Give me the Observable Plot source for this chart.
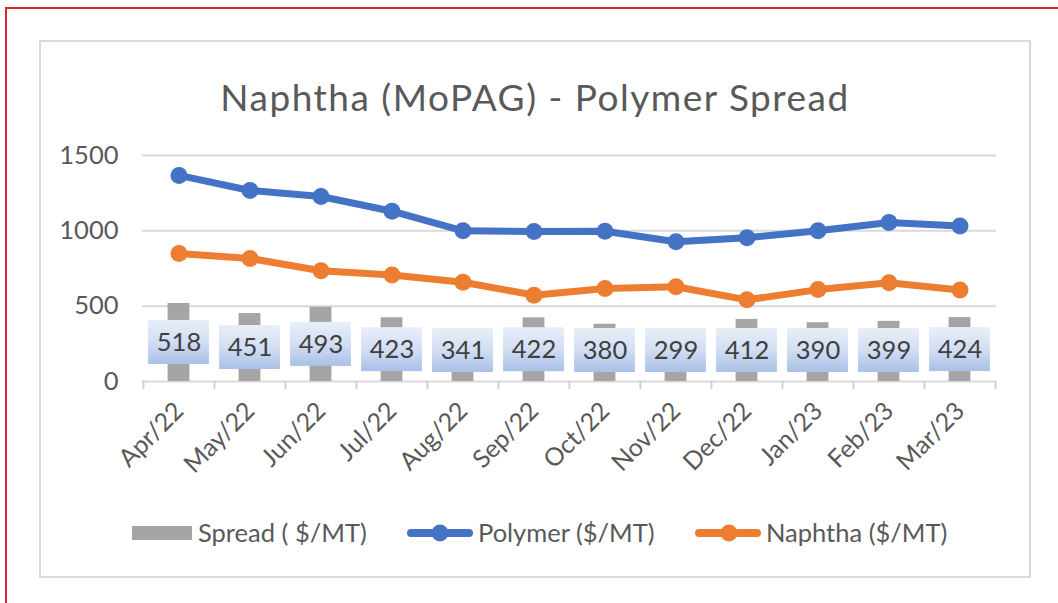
<!DOCTYPE html>
<html><head><meta charset="utf-8">
<script src="https://cdn.jsdelivr.net/npm/d3@7"></script>
<script src="https://cdn.jsdelivr.net/npm/@observablehq/plot@0.6"></script>
<style>
body{margin:0;background:#fff;font-family:Lato, sans-serif;}
#page{position:relative;width:1058px;height:603px;overflow:hidden;background:#fff}
#red{position:absolute;left:5px;top:7px;width:1200px;height:800px;border:2.5px solid #d6282e;}
#box{position:absolute;left:39px;top:40px;width:992px;height:538px;box-sizing:border-box;border:2px solid #d9d9d9;background:#fff}
#title{position:absolute;left:39px;width:992px;top:78px;text-align:center;font-size:37px;line-height:37px;letter-spacing:1.5px;color:#595959;white-space:nowrap}
#chart{position:absolute;left:40px;top:131px;}
.leg{position:absolute;font-size:25.5px;line-height:25px;color:#595959;white-space:nowrap}
</style></head>
<body>
<div id="page">
  <div id="red"></div>
  <div id="box"></div>
  <div id="title">Naphtha (MoPAG) - Polymer Spread</div>
  <div id="chart"></div>
  <div style="position:absolute;left:132px;top:526px;width:60px;height:14px;background:#a5a5a5"></div>
  <div class="leg" style="left:198px;top:520px">Spread ( $/MT)</div>
  <svg style="position:absolute;left:400px;top:520px" width="80" height="26"><line x1="11" x2="69" y1="13" y2="13" stroke="#4472c4" stroke-width="8" stroke-linecap="round"/><circle cx="40" cy="13" r="8.5" fill="#4472c4"/></svg>
  <div class="leg" style="left:478px;top:520px">Polymer ($/MT)</div>
  <svg style="position:absolute;left:689px;top:520px" width="80" height="26"><line x1="10" x2="68" y1="13" y2="13" stroke="#ed7d31" stroke-width="8" stroke-linecap="round"/><circle cx="40" cy="13" r="8.5" fill="#ed7d31"/></svg>
  <div class="leg" style="left:766px;top:520px">Naphtha ($/MT)</div>
</div>
<script>
const months = ["Apr/22","May/22","Jun/22","Jul/22","Aug/22","Sep/22","Oct/22","Nov/22","Dec/22","Jan/23","Feb/23","Mar/23"];
const spread = [518, 451, 493, 423, 341, 422, 380, 299, 412, 390, 399, 424];
const polymer = [1368, 1268, 1228, 1130, 1000, 995, 997, 928, 954, 1000, 1055, 1032];
const naphtha = [850, 817, 735, 707, 659, 573, 617, 629, 542, 610, 656, 608];
const yTicks = [0, 500, 1000, 1500];

const W = 990, H = 360, mL = 102, mR = 34, mT = 24, mB = 110;
const frameW = W - mL - mR, frameH = H - mT - mB;
const step = frameW / months.length;
const pxPerUnit = frameH / 1500;
const boxHalf = 22 / pxPerUnit;
const minLabel = boxHalf + 9 / pxPerUnit; // keep label box above the axis
const barW = 22, boxW = 61;

const rows = months.map((m, i) => ({month: m, spread: spread[i], polymer: polymer[i], naphtha: naphtha[i]}));
const labelY = d => Math.max(d.spread / 2, minLabel);

const plot = Plot.plot({
  width: W, height: H, marginLeft: mL, marginRight: mR, marginTop: mT, marginBottom: mB,
  style: {fontFamily: "Lato, sans-serif", color: "#595959", background: "transparent", overflow: "visible"},
  x: {type: "band", domain: months, padding: 0, axis: null},
  y: {domain: [0, 1500], axis: null},
  marks: [
    Plot.ruleY(yTicks, {stroke: "#d9d9d9", strokeWidth: 2}),
    Plot.tickX(months, {x: d => d, dx: -step / 2, dy: 8, insetTop: frameH - 8, stroke: "#d0d0d0", strokeWidth: 2}),
    Plot.tickX(months.slice(-1), {x: d => d, dx: step / 2, dy: 8, insetTop: frameH - 8, stroke: "#d0d0d0", strokeWidth: 2}),
    Plot.barY(rows, {x: "month", y: "spread", fill: "#a5a5a5", insetLeft: (step - barW) / 2, insetRight: (step - barW) / 2}),
    Plot.barY(rows, {x: "month", y1: d => labelY(d) - boxHalf, y2: d => labelY(d) + boxHalf, fill: "url(#lblgrad)", insetLeft: (step - boxW) / 2, insetRight: (step - boxW) / 2}),
    Plot.text(rows, {x: "month", y: labelY, text: d => String(d.spread), fontSize: 25.5, fill: "#404040"}),
    Plot.line(rows, {x: "month", y: "polymer", stroke: "#4472c4", strokeWidth: 7}),
    Plot.dot(rows, {x: "month", y: "polymer", r: 8.5, fill: "#4472c4"}),
    Plot.line(rows, {x: "month", y: "naphtha", stroke: "#ed7d31", strokeWidth: 7}),
    Plot.dot(rows, {x: "month", y: "naphtha", r: 8.5, fill: "#ed7d31"}),
    Plot.axisY({ticks: yTicks, tickFormat: d => String(d), tickSize: 0, tickPadding: 24, fontSize: 25.5, fill: "#595959"}),
    Plot.text(months, {x: d => d, frameAnchor: "bottom", rotate: -45, textAnchor: "end", dx: 6, dy: 31, fontSize: 25, fill: "#595959"})
  ]
});
d3.select(plot).insert("defs", ":first-child").html(
  '<linearGradient id="lblgrad" x1="0" y1="0" x2="0" y2="1">' +
  '<stop offset="0" stop-color="#e9eff9"/><stop offset="0.5" stop-color="#d2def3"/><stop offset="1" stop-color="#a9c0e7"/></linearGradient>');
document.getElementById("chart").appendChild(plot);
</script>
</body></html>
